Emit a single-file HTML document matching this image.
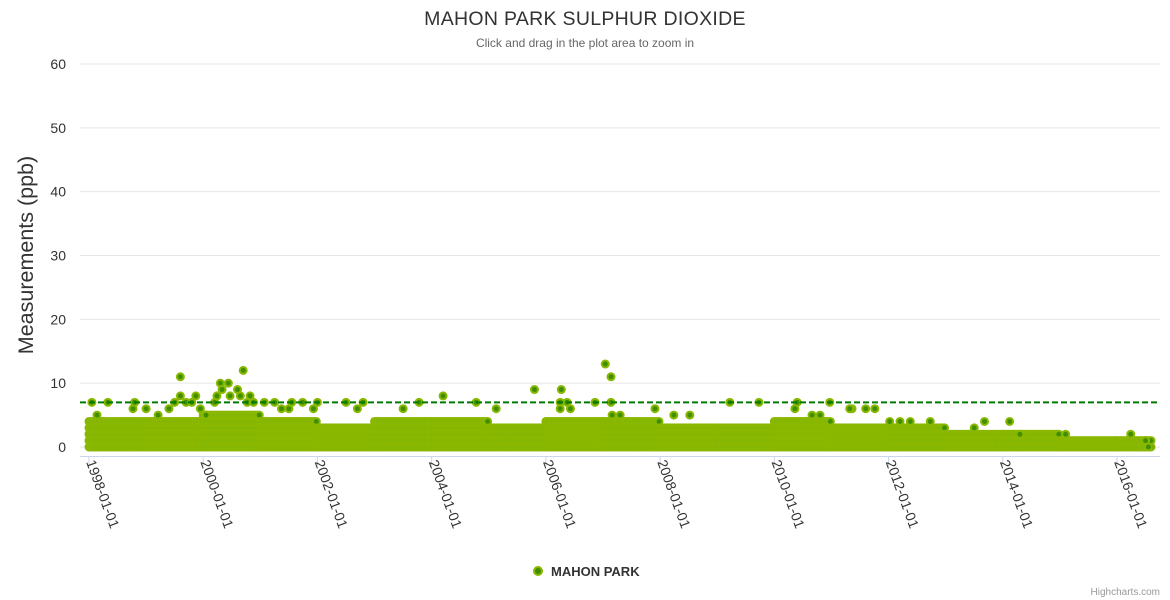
<!DOCTYPE html>
<html><head><meta charset="utf-8">
<style>
html,body{margin:0;padding:0;background:#fff;}
svg{display:block;font-family:"Liberation Sans",sans-serif;}
</style></head>
<body>
<svg id="chart" width="1170" height="600">
<text x="585" y="25" text-anchor="middle" font-size="19.5" letter-spacing="0.3" fill="#333">MAHON PARK SULPHUR DIOXIDE</text>
<text x="585" y="47" text-anchor="middle" font-size="12" fill="#666">Click and drag in the plot area to zoom in</text>
<text transform="translate(33,255) rotate(-90)" text-anchor="middle" font-size="21.5" fill="#333">Measurements (ppb)</text>
<g id="grid"></g><g id="xaxis"></g><g id="pts"></g><g id="thr"></g>
<g>
<circle cx="538" cy="571" r="4" fill="#3f8f00" stroke="#8ab800" stroke-width="2"/>
<text x="551" y="576" font-size="13" font-weight="bold" fill="#333">MAHON PARK</text>
</g>
<text x="1160" y="595" text-anchor="end" font-size="10" fill="#999">Highcharts.com</text>
</svg>
<script>
const yTicks=[0,10,20,30,40,50,60];
const xTickYears=[1998,2000,2002,2004,2006,2008,2010,2012,2014,2016];
const bandYears=[1998,1999,2000,2001,2002,2003,2004,2005,2006,2007,2008,2009,2010,2011,2012,2013,2014,2015,2016];
const bandTops=[4,4,5,4,3,4,4,3,4,4,3,3,4,3,3,2,2,1,1];
const dataEnd=2016.6;
const outYears=[1998.05,1998.33,1998.14,1998.77,1998.8,1999.0,1999.21,1999.4,1999.5,1999.6,1999.6,1999.7,1999.8,1999.87,1999.95,2000.05,2000.2,2000.24,2000.3,2000.33,2000.44,2000.47,2000.6,2000.65,2000.7,2000.77,2000.82,2000.88,2001.07,2001.25,2001.37,2001.5,2001.55,2001.74,2001.93,2002.0,2002.5,2002.7,2002.8,2003.5,2003.78,2004.2,2004.78,2005.13,2005.8,2006.27,2006.37,2006.25,2006.43,2006.25,2006.86,2007.04,2007.14,2007.14,2007.16,2007.3,2007.91,2008.24,2008.52,2009.22,2009.73,2010.36,2010.4,2010.66,2010.8,2010.97,2011.36,2011.32,2011.6,2011.76,2012.02,2012.2,2012.38,2012.73,2013.5,2013.68,2014.12,2014.3,2015.1,2016.24,2016.5,2016.55];
const outVals=[7,7,5,6,7,6,5,6,7,11,8,7,7,8,6,5,7,8,10,9,10,8,9,8,12,7,8,7,7,7,6,6,7,7,6,7,7,6,7,6,7,8,7,6,9,9,7,7,6,6,7,13,11,7,5,5,6,5,5,7,7,6,7,5,5,7,6,6,6,6,4,4,4,4,3,4,4,2,2,2,1,0];
const NS="http://www.w3.org/2000/svg";
const X0=89,PXY=(1117-89)/18,Y0=447,PXV=(447-64)/60;
const xs=y=>X0+(y-1998)*PXY, ys=v=>Y0-v*PXV;
function mk(t,a,p){const e=document.createElementNS(NS,t);for(const k in a)e.setAttribute(k,a[k]);p.appendChild(e);return e;}
const grid=document.getElementById('grid');
yTicks.forEach(v=>{
 const l=mk('line',{x1:80,x2:1160,y1:ys(v),y2:ys(v),stroke:'#e6e6e6'},grid);
 
 
 const t=mk('text',{x:66,y:ys(v)+5,'text-anchor':'end','font-size':14,fill:'#333'},grid);
 t.textContent=v;
 
 
});
const xa=document.getElementById('xaxis');
const al=mk('line',{x1:80,x2:1160,y1:456.5,y2:456.5,stroke:'#ccd6eb'},xa);


xTickYears.forEach(y=>{
 const x=xs(y);
 mk('line',{x1:x,x2:x,y1:456,y2:466,stroke:'#ccd6eb'},xa);
 const t=mk('text',{transform:`translate(${x-3},${462}) rotate(70)`,'font-size':14,fill:'#333'},xa);
 t.textContent=y+'-01-01';
 
 
});
const pts=document.getElementById('pts');
function dot(x,v){const c=mk('circle',{cx:x,cy:ys(v),r:3.5,fill:'#3f8f00',stroke:'#8ab800','stroke-width':2},pts);
 
 }
bandYears.forEach((yr,i)=>{
 const end=Math.min(yr+1,dataEnd);
 for(let x=xs(yr);x<xs(end);x+=2){for(let v=0;v<=bandTops[i];v++)dot(x,v);}
});
outYears.forEach((yr,i)=>dot(xs(yr),outVals[i]));
const thr=document.getElementById('thr');
const tl=mk('line',{x1:80,x2:1160,y1:ys(7),y2:ys(7),stroke:'#007a00','stroke-width':2,'stroke-dasharray':'6,3'},thr);


</script>
</body></html>
